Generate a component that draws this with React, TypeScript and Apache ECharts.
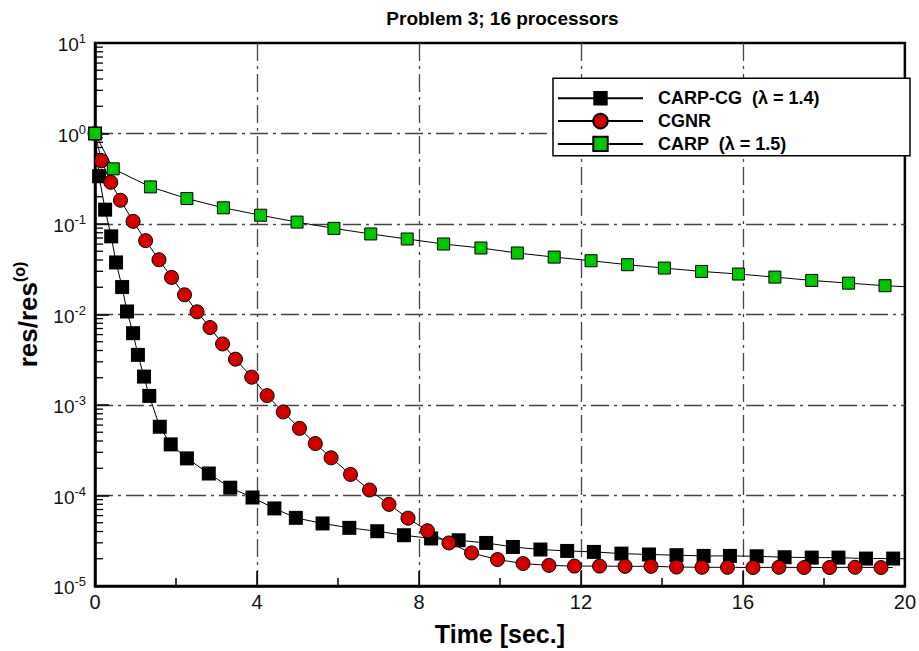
import React, { useEffect, useRef } from 'react';
import * as echarts from 'echarts';

const FONT = '"Liberation Sans", Arial, Helvetica, sans-serif';

// ---- data (time in seconds, normalized residual) ----
const carpCgTime = [0, 0.10, 0.25, 0.40, 0.52, 0.67, 0.79, 0.94, 1.06, 1.21, 1.34, 1.60, 1.87, 2.27, 2.81, 3.34, 3.89, 4.43, 4.96, 5.62, 6.28, 6.97, 7.63, 8.30, 8.98, 9.66, 10.32, 11.00, 11.66, 12.32, 13.00, 13.68, 14.36, 15.03, 15.68, 16.34, 17.03, 17.70, 18.36, 19.04, 19.71];
const carpCgRes = [1.0, 0.337, 0.144, 0.073, 0.0376, 0.0201, 0.0108, 0.00622, 0.00358, 0.00206, 0.00126, 0.000575, 0.000367, 0.000257, 0.000175, 0.000122, 9.5e-5, 7.2e-5, 5.66e-5, 4.91e-5, 4.39e-5, 4.03e-5, 3.64e-5, 3.35e-5, 3.2e-5, 2.99e-5, 2.70e-5, 2.53e-5, 2.44e-5, 2.38e-5, 2.28e-5, 2.23e-5, 2.19e-5, 2.15e-5, 2.15e-5, 2.13e-5, 2.08e-5, 2.06e-5, 2.06e-5, 2.01e-5, 2.01e-5];
const carpCgTail = [20, 2.0e-5];

const cgnrTime = [0, 0.16, 0.39, 0.63, 0.94, 1.25, 1.58, 1.89, 2.21, 2.52, 2.84, 3.15, 3.47, 3.87, 4.25, 4.65, 5.05, 5.44, 5.83, 6.31, 6.78, 7.26, 7.73, 8.21, 8.74, 9.30, 9.94, 10.57, 11.21, 11.84, 12.46, 13.09, 13.73, 14.36, 14.99, 15.62, 16.25, 16.89, 17.51, 18.14, 18.77, 19.41];
const cgnrRes = [1.0, 0.50, 0.289, 0.183, 0.107, 0.0655, 0.0403, 0.0257, 0.0165, 0.0107, 0.00718, 0.00473, 0.00321, 0.00203, 0.00127, 0.000837, 0.000552, 0.000375, 0.000261, 0.000171, 0.000115, 7.98e-5, 5.61e-5, 4.08e-5, 2.99e-5, 2.32e-5, 1.96e-5, 1.77e-5, 1.69e-5, 1.66e-5, 1.66e-5, 1.65e-5, 1.65e-5, 1.62e-5, 1.61e-5, 1.61e-5, 1.60e-5, 1.61e-5, 1.60e-5, 1.60e-5, 1.61e-5, 1.60e-5];
const cgnrTail = [19.7, 1.6e-5];

const carpTime = [0, 0.45, 1.37, 2.27, 3.17, 4.09, 4.99, 5.90, 6.81, 7.71, 8.61, 9.53, 10.43, 11.34, 12.25, 13.15, 14.06, 14.98, 15.89, 16.79, 17.70, 18.61, 19.51];
const carpRes = [1.0, 0.407, 0.257, 0.191, 0.151, 0.125, 0.105, 0.0895, 0.0776, 0.0683, 0.0601, 0.0543, 0.0478, 0.0431, 0.0393, 0.0355, 0.0326, 0.0299, 0.028, 0.0259, 0.0238, 0.0222, 0.0208];
const carpTail = [20, 0.0203];

const seriesNames = ['CARP-CG  (\u03BB = 1.4)', 'CGNR', 'CARP  (\u03BB = 1.5)'];
const decadeExponents = [-5, -4, -3, -2, -1, 0];
const minorMantissas = [2, 3, 4, 5, 6, 7, 8, 9];

const title = 'Problem 3; 16 processors';
const xTitle = 'Time [sec.]';

function buildData(t: number[], v: number[], tail: number[]) {
  const d: any[] = t.map((x, i) => [x, v[i]]);
  d.push({ value: tail, symbol: 'none' });
  return d;
}

const dashDot = [18, 5, 3, 5];

export default function App() {
  const ref = useRef<HTMLDivElement>(null);
  useEffect(() => {
    if (!ref.current) return;
    const chart = echarts.init(ref.current, undefined, { renderer: 'svg' });

    const minorTicks: number[][] = [];
    decadeExponents.forEach((e) => {
      minorMantissas.forEach((m) => minorTicks.push([0, m * Math.pow(10, e)]));
    });

    const lineBase = {
      type: 'line',
      animation: false,
      lineStyle: { color: '#000', width: 1 },
      emphasis: { disabled: true },
      clip: true,
    };

    chart.setOption({
      animation: false,
      backgroundColor: '#fff',
      grid: {
        left: 95, top: 43, width: 815, height: 543,
        show: true, borderColor: '#000', borderWidth: 2.5, backgroundColor: 'transparent',
      },
      graphic: [
        {
          type: 'text', x: 502.5, y: 18, z: 10,
          style: { text: title, font: `bold 19px ${FONT}`, fill: '#000', align: 'center', verticalAlign: 'middle' },
        },
        {
          type: 'rect', z: 3,
          shape: { x: 553, y: 78.3, width: 357, height: 77.4 },
          style: { fill: '#fff', stroke: '#000', lineWidth: 1.5 },
        },
      ],
      legend: {
        data: seriesNames,
        orient: 'vertical',
        left: 557, top: 89.3,
        padding: 0,
        itemWidth: 85, itemHeight: 18, itemGap: 4.8,
        selectedMode: false,
        z: 5,
        textStyle: { fontFamily: FONT, fontSize: 18, fontWeight: 'bold', color: '#000', padding: [0, 0, 0, 10] },
      },
      xAxis: {
        type: 'value', min: 0, max: 20, interval: 4,
        name: xTitle, nameLocation: 'middle', nameGap: 35,
        nameTextStyle: { fontFamily: FONT, fontSize: 25, fontWeight: 'bold', color: '#000' },
        axisLine: { show: true, onZero: false, lineStyle: { color: '#000', width: 2.5 } },
        axisTick: { show: true, inside: true, length: 15, lineStyle: { color: '#000', width: 1.5 } },
        minorTick: { show: true, splitNumber: 2, length: 8, lineStyle: { color: '#000', width: 1.5 } },
        axisLabel: { fontFamily: FONT, fontSize: 20, color: '#111', margin: 6 },
        splitLine: { show: true, showMinLine: false, showMaxLine: false, lineStyle: { color: '#444', width: 1.3, type: dashDot } },
      },
      yAxis: {
        type: 'log', logBase: 10, min: 1e-5, max: 10,
        name: '{b|res/res}{s|(o)}', nameLocation: 'middle', nameGap: 54, nameRotate: 90,
        nameTextStyle: {
          rich: {
            b: { fontFamily: FONT, fontSize: 26, fontWeight: 'bold', color: '#000', lineHeight: 30, verticalAlign: 'bottom' },
            s: { fontFamily: FONT, fontSize: 16, fontWeight: 'bold', color: '#000', lineHeight: 10, verticalAlign: 'top' },
          },
        },
        axisLine: { show: true, lineStyle: { color: '#000', width: 2.5 } },
        axisTick: { show: true, inside: true, length: 14, lineStyle: { color: '#000', width: 1.5 } },
        minorTick: { show: false },
        axisLabel: {
          margin: 9,
          formatter: (v: number) => `{b|10}{s|${Math.round(Math.log10(v))}}`,
          rich: {
            b: { fontFamily: FONT, fontSize: 19, color: '#111', lineHeight: 22, verticalAlign: 'bottom' },
            s: { fontFamily: FONT, fontSize: 13, color: '#111', lineHeight: 13, verticalAlign: 'top' },
          },
        },
        splitLine: { show: true, showMinLine: false, showMaxLine: false, lineStyle: { color: '#444', width: 1.3, type: dashDot } },
      },
      series: [
        {
          type: 'custom', name: 'yMinorTicks', silent: true, z: 1, clip: false,
          data: minorTicks,
          renderItem: (params: any, api: any) => {
            const p = api.coord([api.value(0), api.value(1)]);
            return {
              type: 'line',
              shape: { x1: p[0], y1: p[1], x2: p[0] + 8, y2: p[1] },
              style: { stroke: '#000', lineWidth: 1.3 },
            };
          },
        },
        {
          ...lineBase, name: seriesNames[0],
          data: buildData(carpCgTime, carpCgRes, carpCgTail),
          symbol: 'rect', symbolSize: 14,
          itemStyle: { color: '#000', borderColor: '#000', borderWidth: 0 },
        },
        {
          ...lineBase, name: seriesNames[1],
          data: buildData(cgnrTime, cgnrRes, cgnrTail),
          symbol: 'circle', symbolSize: 14,
          itemStyle: { color: '#D10000', borderColor: '#000', borderWidth: 1 },
        },
        {
          ...lineBase, name: seriesNames[2],
          data: buildData(carpTime, carpRes, carpTail),
          symbol: 'rect', symbolSize: 12,
          itemStyle: { color: '#00C800', borderColor: '#000', borderWidth: 1 },
        },
      ],
    });
    return () => chart.dispose();
  }, []);
  return <div ref={ref} style={{ position: 'absolute', left: 0, top: 0, width: 919, height: 651 }} />;
}
